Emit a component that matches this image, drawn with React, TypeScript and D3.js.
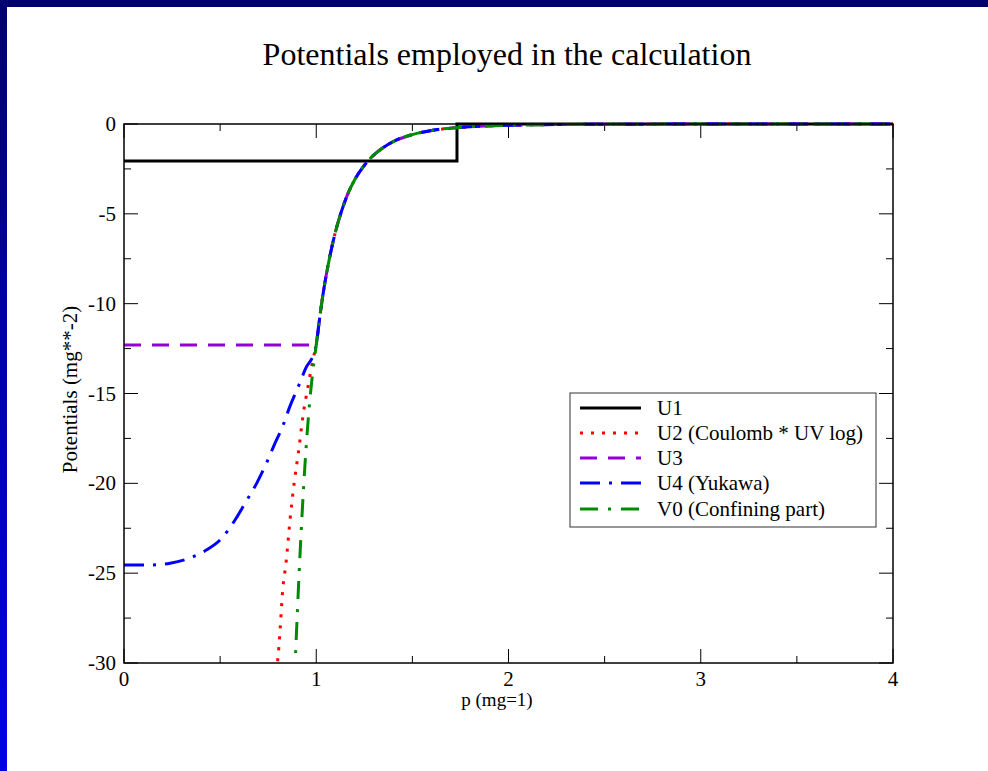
import React from "react";
import * as d3 from "d3";

const W = 988;
const H = 771;

// shared tail of U2, U3, U4, V0 for p >= 1
const commonP = [1.0, 1.02, 1.04, 1.06, 1.08, 1.1, 1.13, 1.16, 1.2, 1.25, 1.3, 1.35, 1.4, 1.5, 1.6, 1.7, 1.8, 2.0, 2.25, 2.5, 3.0, 3.5, 4.0];
const commonV = [-12.3, -10.6, -9.15, -7.95, -6.9, -6.0, -4.9, -4.0, -3.1, -2.3, -1.72, -1.3, -0.98, -0.59, -0.36, -0.23, -0.15, -0.07, -0.03, -0.015, -0.004, -0.001, 0];

const u1P = [0, 1.732, 1.732, 4];
const u1V = [-2.06, -2.06, 0, 0];

const u2P = [0.79, 0.8, 0.811, 0.825, 0.843, 0.863, 0.886, 0.907, 0.933, 0.959, 0.985];
const u2V = [-30.5, -29.8, -28.3, -26.0, -24.4, -22.1, -19.9, -18.3, -16.1, -14.5, -13.0];

const u3P = [0, 0.999];
const u3V = [-12.3, -12.3];

const u4P = [0, 0.15, 0.24, 0.34, 0.43, 0.5, 0.58, 0.63, 0.69, 0.74, 0.78, 0.83, 0.86, 0.915, 0.945, 0.985];
const u4V = [-24.55, -24.54, -24.45, -24.17, -23.7, -23.15, -22.0, -21.1, -20.0, -18.9, -17.9, -16.7, -15.8, -14.4, -13.6, -12.85];

const v0P = [0.885, 0.89, 0.9, 0.91, 0.92, 0.93, 0.94, 0.95, 0.96, 0.97, 0.98, 0.99];
const v0V = [-31, -30.0, -27.6, -25.2, -23.0, -21.0, -19.2, -17.6, -16.2, -15.0, -14.0, -13.1];

const xTicks = [0, 1, 2, 3, 4];
const yTicks = [0, -5, -10, -15, -20, -25, -30];

const seriesNames = ["U1", "U2 (Coulomb * UV log)", "U3", "U4 (Yukawa)", "V0 (Confining part)"];
const seriesColors = ["#000000", "#ff0000", "#9400d3", "#0000ff", "#008b00"];
const seriesDash = ["none", "3 8", "17 11", "20 9 3 9", "18 10 3 10"];

const FONT = "'Liberation Serif', 'Times New Roman', serif";

const zip = (ps: number[], vs: number[]) => ps.map((p, i) => [p, vs[i]] as [number, number]);
const withTail = (ps: number[], vs: number[]) => zip(ps, vs).concat(zip(commonP, commonV));

export default function App() {
  const x0 = 124, x1 = 893, y0 = 124, y1 = 663;
  const x = d3.scaleLinear().domain([0, 4]).range([x0, x1]);
  const y = d3.scaleLinear().domain([0, -30]).range([y0, y1]);

  const smooth = d3.line<[number, number]>().x(d => x(d[0])).y(d => y(d[1])).curve(d3.curveMonotoneX);
  const straight = d3.line<[number, number]>().x(d => x(d[0])).y(d => y(d[1]));

  const paths = [
    straight(zip(u1P, u1V)),
    smooth(withTail(u2P, u2V)),
    straight(zip(u3P, u3V)) + (smooth(zip(commonP, commonV)) || "").replace(/^M/, "L"),
    smooth(withTail(u4P, u4V)),
    smooth(withTail(v0P, v0V)),
  ];

  const xMinor = d3.range(0, 4.01, 0.5).filter(v => Math.abs(v - Math.round(v)) > 1e-6);
  const yMinor = d3.range(0, -30.01, -2.5).filter(v => Math.abs(v / 5 - Math.round(v / 5)) > 1e-6);
  const MAJ = 14, MIN = 7;

  const legX = 570, legY = 393, legW = 306, legH = 134;
  const rowY = [408, 433, 458, 483, 509];

  return (
    <svg width={W} height={H} style={{ position: "absolute", left: 0, top: 0, background: "#fff" }} fontFamily={FONT}>
      <defs>
        <linearGradient id="side" x1="0" y1="0" x2="0" y2="1">
          <stop offset="0" stopColor="#000070" />
          <stop offset="1" stopColor="#0000e6" />
        </linearGradient>
        <clipPath id="plotclip">
          <rect x={x0} y={y0 - 3} width={x1 - x0} height={y1 - y0 + 3} />
        </clipPath>
      </defs>
      <rect x={0} y={0} width={W} height={H} fill="#fff" />
      <rect x={0} y={0} width={7} height={H} fill="url(#side)" />
      <rect x={0} y={0} width={W} height={7} fill="#000070" />

      <text x={507} y={65} textAnchor="middle" fontSize={32} fill="#000">Potentials employed in the calculation</text>

      {/* ticks */}
      <g stroke="#000" strokeWidth={1}>
        {xTicks.map(t => (
          <g key={"xt" + t}>
            <line x1={x(t)} x2={x(t)} y1={y1} y2={y1 - MAJ} />
            <line x1={x(t)} x2={x(t)} y1={y0} y2={y0 + MAJ} />
          </g>
        ))}
        {xMinor.map(t => (
          <g key={"xm" + t}>
            <line x1={x(t)} x2={x(t)} y1={y1} y2={y1 - MIN} />
            <line x1={x(t)} x2={x(t)} y1={y0} y2={y0 + MIN} />
          </g>
        ))}
        {yTicks.map(t => (
          <g key={"yt" + t}>
            <line x1={x0} x2={x0 + MAJ} y1={y(t)} y2={y(t)} />
            <line x1={x1} x2={x1 - MAJ} y1={y(t)} y2={y(t)} />
          </g>
        ))}
        {yMinor.map(t => (
          <g key={"ym" + t}>
            <line x1={x0} x2={x0 + MIN} y1={y(t)} y2={y(t)} />
            <line x1={x1} x2={x1 - MIN} y1={y(t)} y2={y(t)} />
          </g>
        ))}
      </g>

      {xTicks.map(t => (
        <text key={"xl" + t} x={x(t)} y={686} textAnchor="middle" fontSize={21} fill="#000">{t}</text>
      ))}
      {yTicks.map(t => (
        <text key={"yl" + t} x={116} y={y(t) + 7} textAnchor="end" fontSize={21} fill="#000">{t}</text>
      ))}

      <text x={497} y={706} textAnchor="middle" fontSize={19} fill="#000">p (mg=1)</text>
      <text transform={`translate(77, ${(y0 + y1) / 2 - 4}) rotate(-90)`} textAnchor="middle" fontSize={21} fill="#000">Potentials (mg**-2)</text>

      {/* curves */}
      <g clipPath="url(#plotclip)" fill="none">
        {paths.map((d, i) => (
          <path key={"s" + i} d={d || ""} stroke={seriesColors[i]} strokeWidth={3}
            strokeDasharray={seriesDash[i] === "none" ? undefined : seriesDash[i]} strokeLinecap="butt" strokeLinejoin="miter" />
        ))}
      </g>

      {/* frame */}
      <rect x={x0} y={y0} width={x1 - x0} height={y1 - y0} fill="none" stroke="#000" strokeWidth={1.5} />

      {/* legend */}
      <rect x={legX} y={legY} width={legW} height={legH} fill="#fff" stroke="#333" strokeWidth={1} />
      {seriesNames.map((n, i) => (
        <g key={"lg" + i}>
          <line x1={580} x2={641} y1={rowY[i]} y2={rowY[i]} stroke={seriesColors[i]} strokeWidth={3}
            strokeDasharray={seriesDash[i] === "none" ? undefined : seriesDash[i]} />
          <text x={657} y={rowY[i] + 7} fontSize={21} fill="#000">{n}</text>
        </g>
      ))}
    </svg>
  );
}
